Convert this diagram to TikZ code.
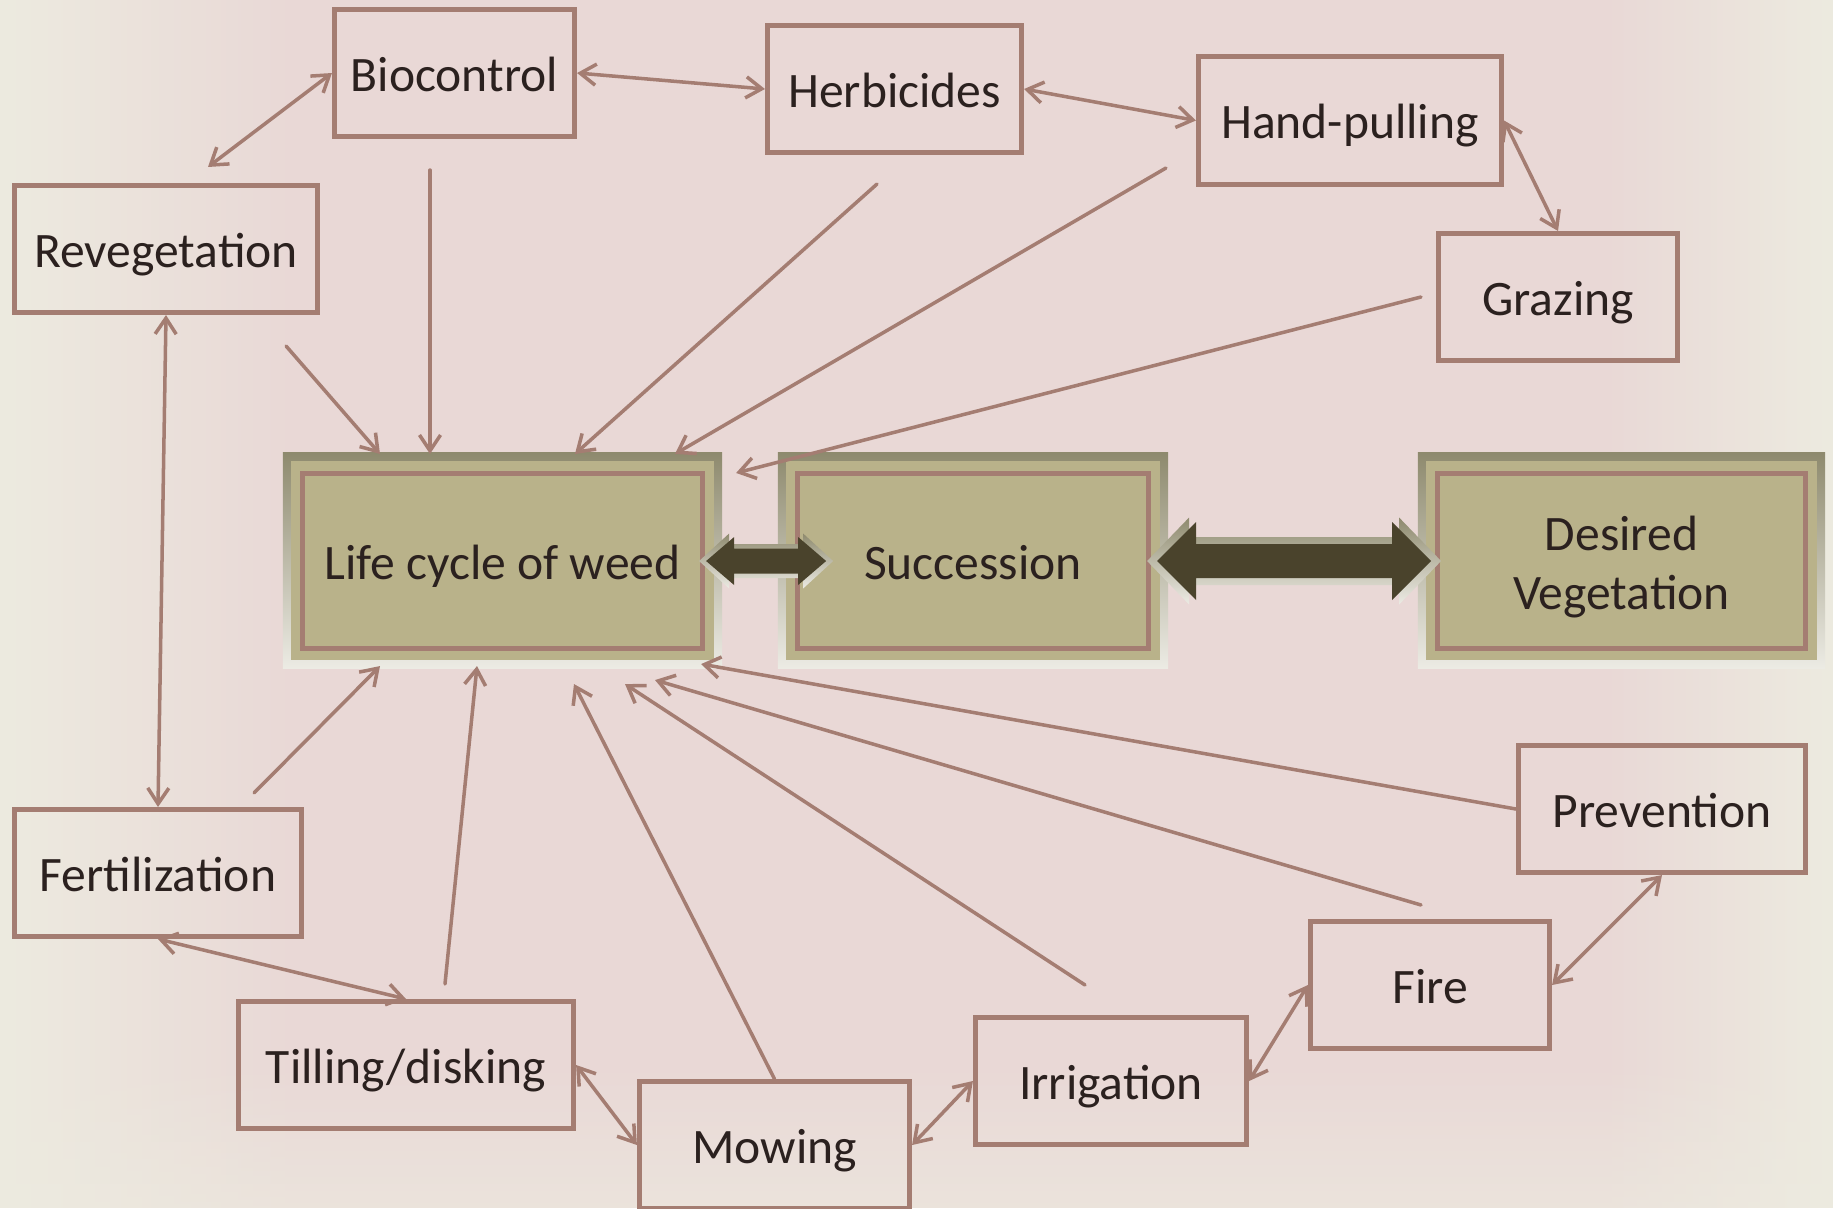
\documentclass[tikz,border=0pt]{standalone}
\usepackage{fontspec}
\setmainfont{Carlito}
\usetikzlibrary{arrows.meta,calc,backgrounds,fadings}

\definecolor{linkbrown}{HTML}{A47D72}
\definecolor{inkdark}{HTML}{2B211F}
\definecolor{khaki}{HTML}{B9B28A}
\definecolor{frametop}{HTML}{8E8A6E}
\definecolor{framebot}{HTML}{ECEBE4}
\definecolor{arrowdark}{HTML}{4A432C}
\definecolor{bgpink}{HTML}{E9D8D6}
\definecolor{bgcream}{HTML}{EDEBE0}

\tikzset{
  every node/.style={text=inkdark, font=\fontsize{14.1pt}{16.9pt}\selectfont},
  method/.style={draw=linkbrown, line width=1.42pt, inner sep=0pt, minimum height=1.27cm, text height=12.8pt, text depth=2.5pt},
  core/.style={draw=linkbrown, line width=1.42pt, fill=khaki, inner sep=0pt, minimum height=1.75cm, align=center},
  link/.style={linkbrown, line width=1pt, line cap=round, >={Straight Barb[length=4.5pt,width=6pt]}}
}

\begin{document}
\begin{tikzpicture}[x=0.01cm,y=-0.01cm]
\useasboundingbox (0,0) rectangle (1833,1208);

% control methods
\node[method, minimum width=2.40cm] (bio) at (454.5,73) {Biocontrol};
\node[method, minimum width=2.54cm] (herb) at (894.5,89) {Herbicides};
\node[method, minimum width=3.03cm, minimum height=1.28cm] (hand) at (1350,120.5) {Hand-pulling};
\node[method, minimum width=2.39cm] (graze) at (1558,297) {Grazing};
\node[method, minimum width=3.03cm] (reveg) at (166,249) {Revegetation};
\node[method, minimum width=2.87cm] (fert) at (158,873) {Fertilization};
\node[method, minimum width=3.35cm] (till) at (406,1065) {Tilling/disking};
\node[method, minimum width=2.70cm] (mow) at (774.5,1145) {Mowing};
\node[method, minimum width=2.71cm] (irr) at (1111,1081) {Irrigation};
\node[method, minimum width=2.39cm] (fire) at (1430,985) {Fire};
\node[method, minimum width=2.87cm] (prev) at (1662,809) {Prevention};

% the three core boxes
\node[core, minimum width=4.00cm, text height=12.8pt, text depth=2.5pt] (life) at (502.5,561) {Life cycle of weed};
\node[core, minimum width=3.51cm, text height=12.8pt, text depth=2.5pt] (succ) at (973,561) {Succession};
\node[core, minimum width=3.68cm, text height=1.05cm, text depth=0.08cm] (want) at (1621.5,561) {Desired\\Vegetation};

\begin{pgfonlayer}{background}
  \fill[bgpink] (0,0) rectangle (1833,1208);
  \fill[bgcream, path fading=east] (0,0) rectangle (300,1208);
  \fill[bgcream, path fading=west] (1600,0) rectangle (1833,1208);
  \fill[bgcream, path fading=north, opacity=0.6] (0,1060) rectangle (1833,1208);
  \foreach \n in {life,succ,want} {
    \shade[top color=frametop, bottom color=framebot] ($(\n.north west)+(-17,-18)$) rectangle ($(\n.south east)+(17,17)$);
    \fill[khaki] ($(\n.north west)+(-9,-10)$) rectangle ($(\n.south east)+(9,9)$);
  }
\end{pgfonlayer}

% ring of two-way links
\draw[link,<->] (bio.west) -- ($(reveg.north)+(42,-16)$);
\draw[link,<->] (bio.east) -- (herb.west);
\draw[link,<->] (herb.east) -- (hand.west);
\draw[link,<->] (hand.east) -- (graze.north);
\draw[link,<->] (reveg.south) -- (fert.north);
\draw[link,<->] (fert.south) -- (till.north);
\draw[link,<->] (till.east) -- (mow.west);
\draw[link,<->] (mow.east) -- (irr.west);
\draw[link,<->] (irr.east) -- (fire.west);
\draw[link,<->] (fire.east) -- (prev.south);

% every method acts on the life cycle
\draw[link,->] ($(reveg.south east)+(-34,31)$) -- ($(life.north)+(-122.5,-17)$);
\draw[link,->] ($(bio.south)+(-24.5,31)$) -- ($(life.north)+(-72.5,-17)$);
\draw[link,->] ($(herb.south)+(-17.5,29)$) -- ($(life.north)+(72.5,-17)$);
\draw[link,->] ($(hand.south west)+(-30,-19)$) -- ($(life.north)+(172.5,-17)$);
\draw[link,->] ($(graze.west)+(-15,0)$) -- ($(life.north east)+(31,2)$);
\draw[link,->] ($(fert.north)+(96,-14)$) -- ($(life.south)+(-122.5,15)$);
\draw[link,->] ($(till.north)+(39,-15)$) -- ($(life.south)+(-25.5,15)$);
\draw[link,->] (mow.north) -- ($(life.south)+(71.5,33)$);
\draw[link,->] ($(irr.north)+(-26,-30)$) -- ($(life.south)+(122.5,33)$);
\draw[link,->] ($(fire.north)+(-9,-14)$) -- ($(life.south)+(152.5,29)$);
\draw[link,->] (prev.west) -- ($(life.south east)+(-4,13)$);

% block arrows between the core boxes
\coordinate (tipA) at ($(life.east)+(-6,0)$);
\coordinate (tipB) at ($(succ.east)+(-4,0)$);
\shade[top color=frametop, bottom color=framebot] (tipA) -- ++(30,-27.5) -- ++(0,10.5) -- ++(74,0) -- ++(0,-10.5) -- ++(30,27.5) -- ++(-30,27.5) -- ++(0,-10.5) -- ++(-74,0) -- ++(0,10.5) -- cycle;
\fill[arrowdark] ($(tipA)+(7,0)$) -- ++(28,-24) -- ++(0,11.5) -- ++(64,0) -- ++(0,-11.5) -- ++(28,24) -- ++(-28,24) -- ++(0,-11.5) -- ++(-64,0) -- ++(0,11.5) -- cycle;
\shade[top color=frametop, bottom color=framebot] (tipB) -- ++(42,-43.5) -- ++(0,19.5) -- ++(210,0) -- ++(0,-19.5) -- ++(42,43.5) -- ++(-42,43.5) -- ++(0,-19.5) -- ++(-210,0) -- ++(0,19.5) -- cycle;
\fill[arrowdark] ($(tipB)+(10,0)$) -- ++(39,-39) -- ++(0,22) -- ++(196,0) -- ++(0,-22) -- ++(39,39) -- ++(-39,39) -- ++(0,-22) -- ++(-196,0) -- ++(0,22) -- cycle;
\end{tikzpicture}
\end{document}
